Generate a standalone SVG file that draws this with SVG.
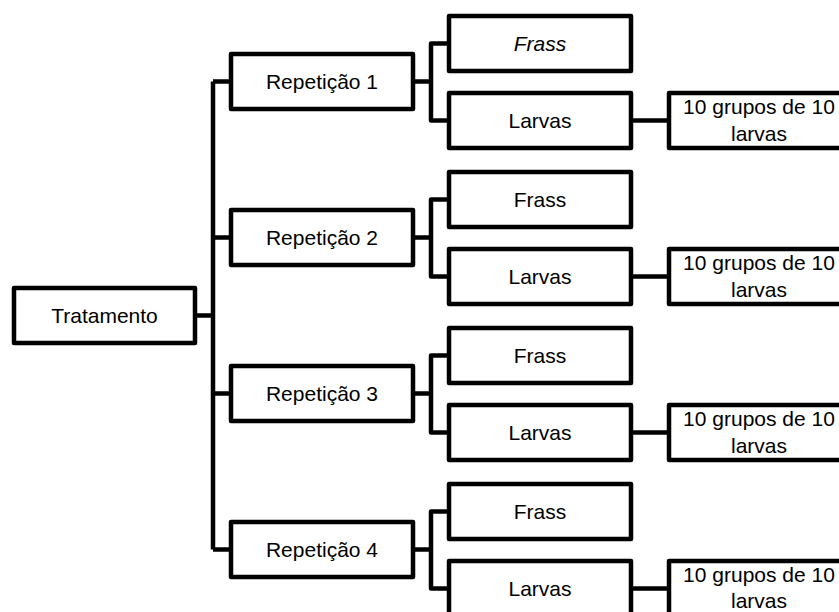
<svg xmlns="http://www.w3.org/2000/svg" width="839" height="612" viewBox="0 0 839 612">
<style>
.box{fill:#fff;stroke:#000;stroke-width:4.5;stroke-linejoin:round}
.conn{fill:none;stroke:#000;stroke-width:4.5;stroke-linejoin:round}
text{font-family:"Liberation Sans",Arial,sans-serif;font-size:21px;fill:#000;text-anchor:middle}
</style>
<rect width="839" height="612" fill="#fff"/>
<g id="connectors">
<path class="conn" d="M195 315.5H213M213 81.5V549.5M213 81.5H231M213 237.5H231M213 393.5H231M213 549.5H231"/>
<path class="conn" d="M413 81.5H431M449 43.5H431V120.5H449M631 120.5H669"/>
<path class="conn" d="M413 237.5H431M449 199.5H431V276.5H449M631 276.5H669"/>
<path class="conn" d="M413 393.5H431M449 355.5H431V432.5H449M631 432.5H669"/>
<path class="conn" d="M413 549.5H431M449 511.5H431V588.5H449M631 588.5H669"/>
</g>
<g id="tratamento"><rect class="box" x="14" y="288" width="181" height="55"/><text x="104.5" y="323">Tratamento</text></g>
<g id="rep1"><rect class="box" x="231" y="54" width="182" height="55"/><text x="322" y="89">Repetição 1</text></g>
<g id="rep2"><rect class="box" x="231" y="210" width="182" height="55"/><text x="322" y="245">Repetição 2</text></g>
<g id="rep3"><rect class="box" x="231" y="366" width="182" height="55"/><text x="322" y="401">Repetição 3</text></g>
<g id="rep4"><rect class="box" x="231" y="522" width="182" height="55"/><text x="322" y="557">Repetição 4</text></g>
<g id="frass1"><rect class="box" x="449" y="16" width="182" height="55"/><text x="540" y="51" font-style="italic">Frass</text></g>
<g id="frass2"><rect class="box" x="449" y="172" width="182" height="55"/><text x="540" y="207">Frass</text></g>
<g id="frass3"><rect class="box" x="449" y="328" width="182" height="55"/><text x="540" y="363">Frass</text></g>
<g id="frass4"><rect class="box" x="449" y="484" width="182" height="55"/><text x="540" y="519">Frass</text></g>
<g id="larvas1"><rect class="box" x="449" y="93" width="182" height="55"/><text x="540" y="128">Larvas</text></g>
<g id="larvas2"><rect class="box" x="449" y="249" width="182" height="55"/><text x="540" y="284">Larvas</text></g>
<g id="larvas3"><rect class="box" x="449" y="405" width="182" height="55"/><text x="540" y="440">Larvas</text></g>
<g id="larvas4"><rect class="box" x="449" y="561" width="182" height="55"/><text x="540" y="596">Larvas</text></g>
<g id="grupos1"><rect class="box" x="669" y="93" width="182" height="55"/><text x="759" y="114">10 grupos de 10</text><text x="759" y="141">larvas</text></g>
<g id="grupos2"><rect class="box" x="669" y="249" width="182" height="55"/><text x="759" y="270">10 grupos de 10</text><text x="759" y="297">larvas</text></g>
<g id="grupos3"><rect class="box" x="669" y="405" width="182" height="55"/><text x="759" y="426">10 grupos de 10</text><text x="759" y="453">larvas</text></g>
<g id="grupos4"><rect class="box" x="669" y="561" width="182" height="55"/><text x="759" y="582">10 grupos de 10</text><text x="759" y="608">larvas</text></g>
</svg>
